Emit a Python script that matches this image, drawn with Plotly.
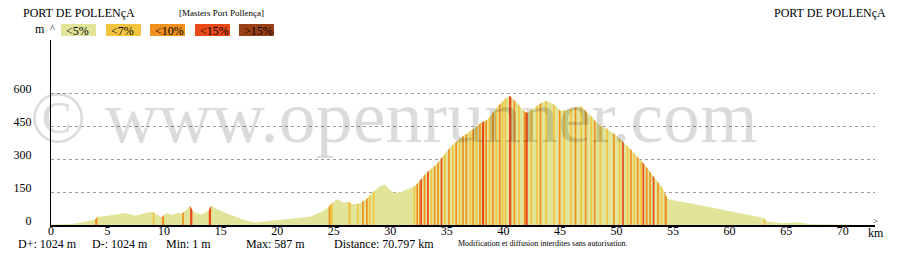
import plotly.graph_objects as go

# ---------------- data ----------------
dist_km = [
    0.0, 1.0, 2.0, 3.0, 3.9, 4.1, 5.0, 6.0, 6.6, 7.4,
    8.0, 8.6, 9.0, 9.15, 9.8, 10.0, 10.3, 10.7, 11.2, 11.6,
    11.75, 12.3, 12.5, 12.8, 13.3, 13.95, 14.15, 14.7, 15.9, 17.1,
    18.0, 20.0, 21.5, 22.9, 24.0, 24.55, 24.7, 24.9, 25.3, 25.9,
    26.3, 26.5, 26.7, 27.05, 27.2, 27.5, 27.65, 27.85, 28.0, 28.1,
    28.25, 28.45, 28.6, 29.0, 29.5, 29.9, 30.4, 31.0, 31.7, 32.05,
    32.2, 32.3, 32.45, 32.55, 32.65, 32.8, 32.95, 33.1, 33.25, 33.4,
    33.55, 33.7, 33.85, 34.0, 34.15, 34.3, 34.45, 34.6, 34.75, 34.9,
    35.1, 35.25, 35.45, 35.6, 35.75, 35.9, 36.05, 36.2, 36.35, 36.5,
    36.65, 36.8, 37.0, 37.15, 37.25, 37.4, 37.55, 37.7, 37.85, 38.0,
    38.1, 38.3, 38.4, 38.55, 38.7, 38.85, 39.0, 39.15, 39.3, 39.45,
    39.6, 39.75, 39.85, 40.0, 40.1, 40.25, 40.5, 40.6, 40.7, 40.9,
    41.05, 41.3, 41.45, 41.8, 41.95, 42.15, 42.4, 42.55, 42.9, 43.05,
    43.2, 43.35, 43.7, 43.85, 44.4, 44.55, 44.9, 45.05, 45.3, 45.45,
    45.9, 46.05, 46.3, 46.45, 46.8, 46.95, 47.2, 47.35, 47.7, 47.85,
    48.0, 48.15, 48.5, 48.65, 49.1, 49.25, 49.7, 49.85, 50.2, 50.35,
    50.5, 50.65, 50.9, 51.05, 51.2, 51.35, 51.5, 51.65, 51.8, 51.95,
    52.1, 52.25, 52.3, 52.45, 52.6, 52.75, 52.9, 53.05, 53.2, 53.35,
    53.6, 53.75, 53.9, 54.05, 54.25, 54.45, 54.6, 55.3, 56.5, 57.6,
    58.8, 60.0, 60.9, 62.0, 63.0, 63.15, 63.4, 64.7, 65.5, 66.2,
    67.1, 68.8, 70.797,
]
elev_m = [
    1, 2, 6, 15, 25, 38, 42, 50, 54, 42,
    50, 58, 59, 54, 35, 45, 53, 45, 56, 52,
    60, 88, 66, 55, 48, 66, 88, 72, 45, 23,
    11, 22, 30, 38, 61, 82, 92, 101, 117, 101,
    106, 99, 94, 95, 97, 104, 110, 116, 124, 129,
    138, 148, 156, 174, 185, 162, 144, 151, 164, 174,
    178, 182, 192, 198, 204, 212, 224, 232, 240, 247,
    252, 258, 264, 270, 280, 290, 300, 310, 319, 328,
    341, 350, 360, 367, 374, 381, 390, 396, 401, 406,
    411, 415, 424, 428, 432, 438, 444, 450, 458, 464,
    467, 472, 474, 478, 486, 496, 508, 516, 525, 535,
    544, 552, 558, 565, 570, 576, 583, 587, 578, 570,
    562, 550, 540, 520, 512, 510, 520, 526, 538, 544,
    550, 556, 562, 564, 550, 544, 525, 519, 519, 522,
    527, 530, 533, 536, 538, 537, 523, 514, 497, 490,
    480, 472, 455, 448, 440, 435, 418, 411, 396, 389,
    382, 374, 362, 355, 347, 339, 330, 322, 313, 305,
    296, 288, 285, 276, 266, 256, 246, 236, 225, 215,
    199, 189, 179, 168, 150, 125, 118, 109, 99, 88,
    73, 61, 53, 42, 32, 24, 16, 8, 10, 12,
    3, 1, 1,
]
# grade class of the segment that starts at each point (0:<5%, 1:<7%, 2:<10%, 3:<15%, 4:>15%)
grade_class = [
    0, 0, 0, 0, 2, 0, 0, 0, 0, 0,
    0, 0, 1, 0, 2, 0, 0, 0, 0, 2,
    0, 3, 0, 0, 0, 3, 0, 0, 0, 0,
    0, 0, 0, 0, 0, 2, 1, 0, 0, 0,
    1, 0, 0, 1, 0, 2, 0, 2, 0, 1,
    0, 1, 0, 0, 0, 0, 0, 0, 0, 1,
    0, 2, 0, 2, 3, 0, 2, 0, 3, 0,
    1, 0, 2, 0, 2, 0, 3, 0, 1, 0,
    2, 0, 1, 0, 2, 0, 1, 0, 2, 0,
    2, 0, 1, 0, 2, 0, 1, 0, 2, 0,
    3, 0, 2, 0, 1, 0, 2, 0, 1, 0,
    2, 0, 1, 0, 1, 0, 3, 3, 0, 2,
    0, 1, 0, 2, 3, 0, 1, 0, 1, 0,
    2, 0, 1, 0, 1, 0, 2, 0, 1, 0,
    1, 0, 2, 0, 1, 0, 2, 0, 1, 0,
    2, 0, 1, 0, 1, 0, 2, 0, 1, 0,
    3, 0, 1, 0, 2, 0, 1, 0, 2, 0,
    1, 0, 3, 0, 2, 0, 2, 0, 3, 0,
    2, 0, 1, 0, 2, 0, 0, 0, 0, 0,
    0, 0, 0, 0, 1, 0, 0, 0, 0, 0,
    0, 0, 0,
]

grade_labels = ["<5%", "<7%", "<10%", "<15%", ">15%"]
grade_colors = ["#e2e49a", "#f2c440", "#f0901e", "#ea4a18", "#9a4016"]

x_ticks = list(range(0, 75, 5))
y_ticks = [0, 150, 300, 450, 600]

start_name = "PORT DE POLLENçA"
end_name = "PORT DE POLLENçA"
route_name = "[Masters Port Pollença]"
stats_texts = ["D+: 1024 m", "D-: 1024 m", "Min: 1 m", "Max: 587 m", "Distance: 70.797 km"]
notice = "Modification et diffusion interdites sans autorisation."
watermark = "© www.openrunner.com"

# ---------------- layout geometry (pixels) ----------------
W, H = 897, 259
L, R, T, B = 51, 22, 40, 34
PW, PH = W - L - R, H - T - B
SERIF = "Liberation Serif, Times New Roman, serif"


def px(xp):
    return (xp - L) / PW


def py(yp):
    return (H - B - yp) / PH


fig = go.Figure()

# base profile
fig.add_trace(go.Scatter(
    x=dist_km, y=elev_m, mode="lines", fill="tozeroy",
    fillcolor=grade_colors[0], line=dict(width=0, color=grade_colors[0]),
    hoverinfo="skip", showlegend=False,
))

# coloured slope stripes
for k in range(1, len(grade_colors)):
    xs, ys = [], []
    for i in range(len(dist_km) - 1):
        if grade_class[i] == k:
            x0, x1 = dist_km[i], dist_km[i + 1]
            y0, y1 = elev_m[i], elev_m[i + 1]
            xs += [x0, x0, x1, x1, x0, None]
            ys += [0, y0, y1, 0, 0, None]
    if xs:
        fig.add_trace(go.Scatter(
            x=xs, y=ys, mode="lines", fill="toself",
            fillcolor=grade_colors[k], line=dict(width=0, color=grade_colors[k]),
            hoverinfo="skip", showlegend=False, connectgaps=False,
        ))

annotations = []
shapes = []


def text(s, xp, yp, size=12, xanchor="left", color="black", yanchor="middle"):
    annotations.append(dict(
        text=s, x=px(xp), y=py(yp), xref="paper", yref="paper",
        xanchor=xanchor, yanchor=yanchor, showarrow=False,
        font=dict(family=SERIF, size=size, color=color),
    ))


# watermark
text(watermark, 28, 117, size=74, color="rgba(0,0,0,0.14)")

# header
text(start_name, 21, 13, size=12)
text(route_name, 177, 13, size=9)
text(end_name, 888, 13, size=12, xanchor="right")

# legend boxes
box_x0 = [61, 106, 150, 195, 239]
for lbl, col, bx in zip(grade_labels, grade_colors, box_x0):
    shapes.append(dict(
        type="rect", xref="paper", yref="paper",
        x0=px(bx), x1=px(bx + 35), y0=py(36), y1=py(24),
        fillcolor=col, line=dict(width=0), layer="above",
    ))
    text(lbl, bx + 3, 30.5, size=12)

# axis units/arrows
text("m", 40, 29, size=12, xanchor="center")
text("^", 52, 29, size=10, xanchor="center")
text(">", 875, 220.5, size=9, xanchor="center")
text("km", 876, 233, size=12, xanchor="center")

# bottom statistics
stats_x = [16, 90, 164, 244, 332]
for s, sx in zip(stats_texts, stats_x):
    text(s, sx, 243.5, size=12)
text(notice, 456, 243.5, size=8)

fig.update_layout(
    width=W, height=H,
    margin=dict(l=L, r=R, t=T, b=B, pad=0),
    paper_bgcolor="white", plot_bgcolor="white",
    showlegend=False,
    annotations=annotations, shapes=shapes,
    xaxis=dict(
        range=[0, PW / 11.31], tickvals=x_ticks, ticktext=[str(v) for v in x_ticks],
        showgrid=False, zeroline=False, showline=True, linecolor="black", linewidth=1.5,
        ticks="", ticklabelstandoff=-6,
        tickfont=dict(family=SERIF, size=12, color="black"),
        fixedrange=True,
    ),
    yaxis=dict(
        range=[0, PH * 150 / 33], tickvals=y_ticks, ticktext=[str(v) for v in y_ticks],
        showgrid=True, gridcolor="#9a9a9a", griddash="dot", gridwidth=1,
        zeroline=False, showline=True, linecolor="black", linewidth=1,
        ticks="", ticklabelstandoff=16, ticklabelshift=-4,
        tickfont=dict(family=SERIF, size=12, color="black"),
        fixedrange=True,
    ),
)

fig.write_html("out.html")
